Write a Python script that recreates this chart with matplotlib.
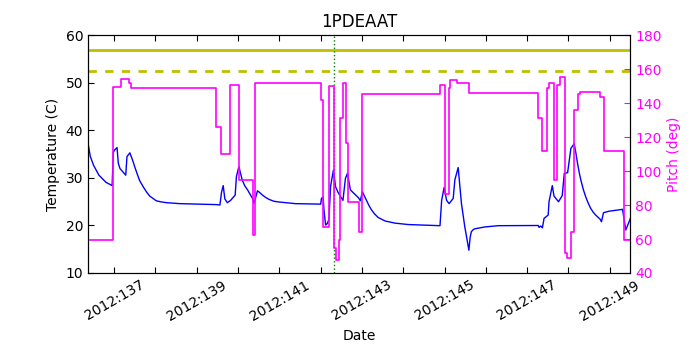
import numpy as np
import matplotlib
matplotlib.use("Agg")
from matplotlib import pyplot as plt

# temperature trace (day of year 2012, deg C)
temp_day = [136.37, 136.42, 136.50, 136.63, 136.80, 136.93, 136.95, 136.98, 137.01, 137.07,
            137.10, 137.14, 137.28, 137.31, 137.38, 137.46, 137.50, 137.58, 137.62, 137.70,
            137.78, 137.86, 137.94, 138.02, 138.12, 138.27, 138.59,
            139.48, 139.56, 139.60, 139.64, 139.68, 139.74, 139.82, 139.93, 139.96, 140.02,
            140.10, 140.16, 140.23, 140.35, 140.39, 140.43, 140.47, 140.53, 140.59, 140.67,
            140.75, 140.87, 140.99, 141.39,
            142.00, 142.02, 142.06, 142.08, 142.12, 142.16, 142.20, 142.24, 142.31, 142.36,
            142.42, 142.48, 142.54, 142.60, 142.65, 142.72, 142.85, 142.92, 142.96, 143.01,
            143.11, 143.17, 143.23, 143.30, 143.39, 143.48, 143.56, 143.80, 144.12, 144.89,
            144.93, 144.99, 145.05, 145.11, 145.21, 145.25, 145.33, 145.41, 145.49, 145.59,
            145.62, 145.65, 145.69, 145.73, 145.98, 146.30,
            147.27, 147.29, 147.33, 147.37, 147.41, 147.51, 147.53, 147.61, 147.65, 147.76,
            147.85, 147.90, 147.98, 148.06, 148.14, 148.18, 148.22, 148.26, 148.30, 148.36,
            148.42, 148.48, 148.54, 148.60, 148.66, 148.77, 148.80, 148.85, 148.98, 149.31,
            149.39, 149.50]
temp_val = [37.2, 34.6, 32.7, 30.6, 29.1, 28.5, 28.4, 35.4, 35.9, 36.4,
            33.1, 32.0, 30.6, 34.5, 35.3, 33.4, 32.3, 30.3, 29.4, 28.2,
            27.1, 26.2, 25.7, 25.2, 25.0, 24.8, 24.6,
            24.4, 24.3, 27.0, 28.4, 25.6, 24.8, 25.3, 26.4, 30.3, 32.4,
            29.6, 28.4, 27.5, 25.7, 24.7, 26.0, 27.3, 26.9, 26.4, 25.9,
            25.5, 25.1, 24.95, 24.6,
            24.5, 25.7, 26.0, 23.3, 20.1, 20.4, 21.3, 28.2, 31.7, 28.2,
            27.0, 26.1, 25.3, 29.9, 31.0, 27.5, 26.4, 25.8, 25.2, 27.1,
            25.3, 24.2, 23.3, 22.5, 21.7, 21.3, 20.95, 20.5, 20.2, 19.96,
            25.3, 28.0, 25.3, 24.6, 25.7, 29.6, 32.2, 24.6, 19.75, 14.8,
            17.5, 18.7, 19.1, 19.3, 19.7, 19.96,
            20.0, 19.6, 19.9, 19.5, 21.5, 22.2, 25.0, 28.4, 26.2, 25.0,
            26.3, 31.0, 31.1, 36.25, 37.2, 35.3, 33.1, 31.2, 29.6, 27.6,
            26.0, 24.7, 23.6, 22.8, 22.2, 21.3, 20.8, 22.7, 23.0, 23.4,
            19.05, 21.5]

# pitch (deg), piecewise constant between these times
pitch_day = [136.37, 136.96, 137.16, 137.35, 137.40, 139.46, 139.58, 139.80, 140.02, 140.35,
             140.41, 142.02, 142.06, 142.21, 142.32, 142.36, 142.44, 142.48, 142.54, 142.62,
             142.67, 142.93, 142.99, 144.89, 145.02, 145.11, 145.13, 145.31, 145.59, 147.27,
             147.37, 147.49, 147.53, 147.65, 147.73, 147.80, 147.91, 147.96, 148.07, 148.14,
             148.22, 148.28, 148.77, 148.85, 149.35, 149.50]
pitch_val = [59.5, 149.5, 154.5, 152.0, 149.0, 126.2, 110.3, 150.8, 94.8, 62.4,
             151.8, 142.0, 67.3, 150.2, 54.5, 47.6, 59.4, 131.2, 151.8, 116.4,
             82.0, 64.3, 145.5, 150.8, 86.5, 149.0, 153.8, 151.8, 146.3, 131.2,
             112.1, 148.9, 152.2, 94.8, 150.8, 155.7, 51.6, 49.0, 64.3, 136.1,
             145.5, 146.6, 143.9, 112.1, 59.4, 59.4]

limit_yellow = 57.0
limit_planning = 52.5
marker_day = 142.33

tick_days = list(range(137, 150))
tick_labels = ["2012:%03d" % d if d % 2 == 1 else "" for d in tick_days]

plt.rcParams["font.family"] = "DejaVu Sans"
plt.rcParams["font.size"] = 10

fig = plt.figure(figsize=(7, 3.5), dpi=100)
ax1 = fig.add_axes([0.1257, 0.22, 0.775, 0.6786])

ax1.plot(temp_day, temp_val, color="blue", lw=1)
ax1.axhline(limit_yellow, color="y", lw=2)
ax1.axhline(limit_planning, color="y", lw=2, linestyle=(0, (3, 3)))
ax1.axvline(marker_day, color="g", lw=1, linestyle=":")
ax1.set_ylim(10, 60)
ax1.set_xlim(136.366, 149.503)
ax1.set_ylabel("Temperature (C)")
ax1.set_xlabel("Date")
ax1.set_title("1PDEAAT", fontsize=12)
ax1.set_xticks(tick_days)
ax1.set_xticklabels(tick_labels, rotation=30, ha="center")
ax1.tick_params(direction="in", length=4, top=True)

ax2 = ax1.twinx()
ax2.plot(pitch_day, pitch_val, color="magenta", lw=1.2, drawstyle="steps-post")
ax2.set_ylim(40, 180)
ax2.set_ylabel("Pitch (deg)", color="magenta")
ax2.tick_params(axis="y", colors="magenta", direction="in", length=4)
ax2.spines["right"].set_color("black")
ax2.set_xlim(136.366, 149.503)

plt.savefig("out.png", dpi=100)
